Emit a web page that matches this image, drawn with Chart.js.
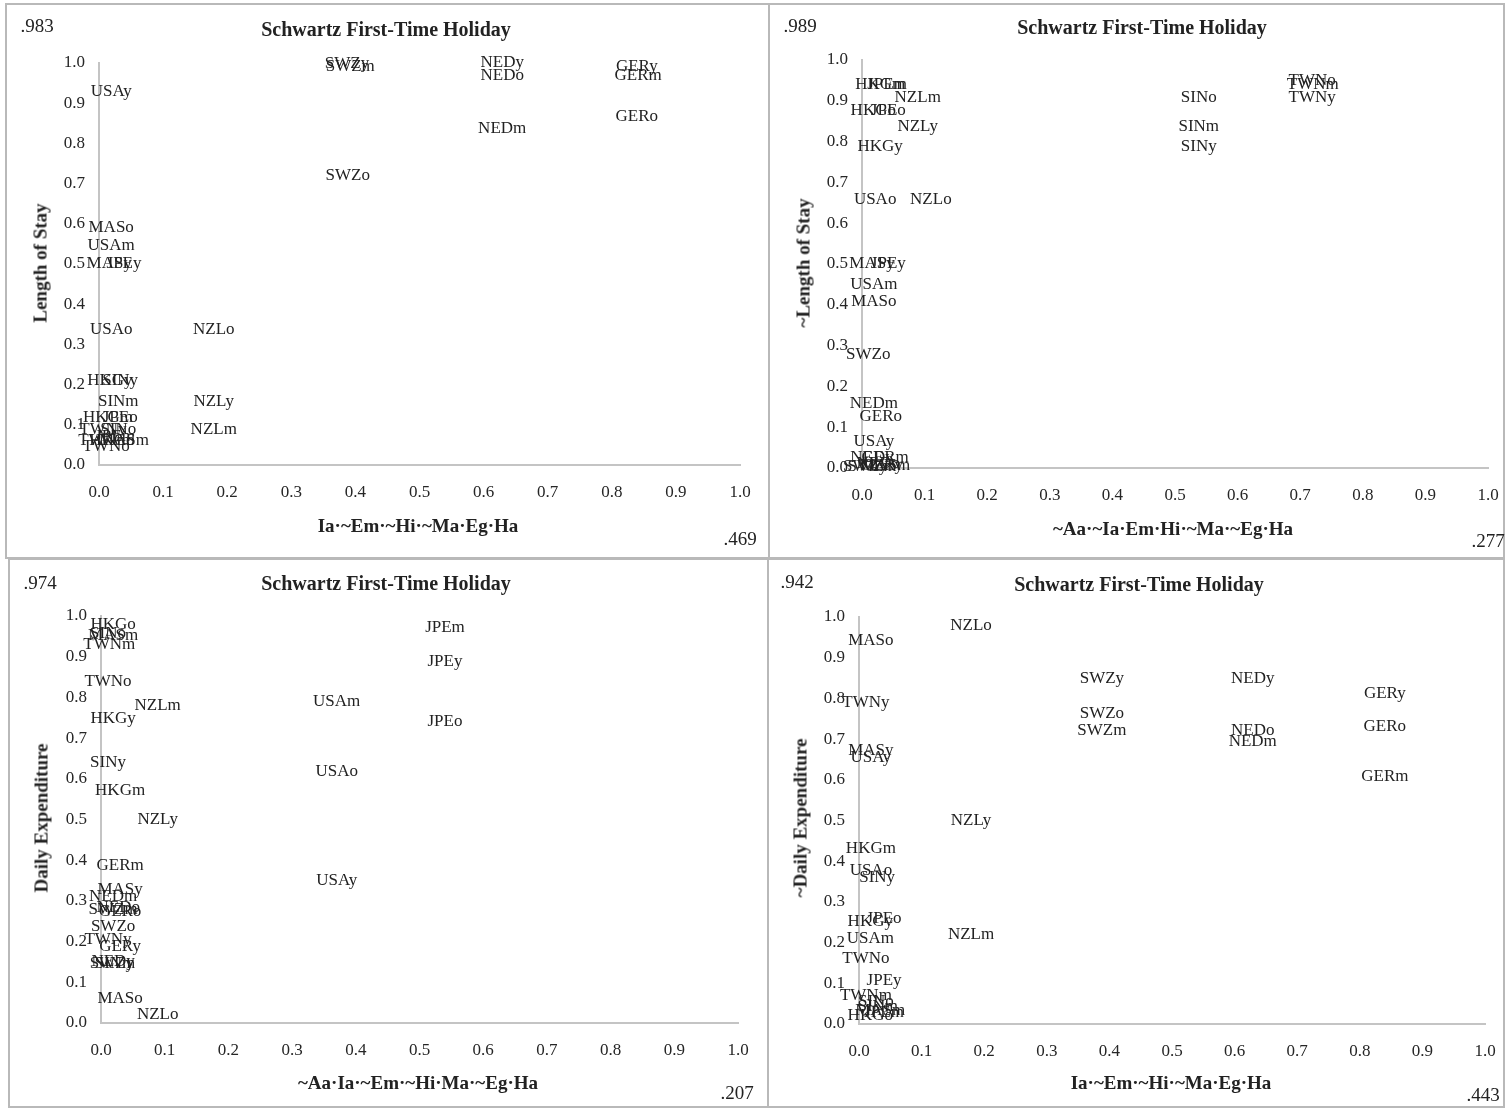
<!DOCTYPE html>
<html>
<head>
<meta charset="utf-8">
<script src="https://cdn.jsdelivr.net/npm/chart.js@4.4.1/dist/chart.umd.min.js"></script>
<style>
  html, body { margin:0; padding:0; background:#fff; }
  body { width:1505px; height:1108px; position:relative; overflow:hidden; font-family:"Liberation Serif","Times New Roman",serif; color:#222; }
  .box { position:absolute; border:2px solid #b9b9b9; box-sizing:border-box; }
  .cv { position:absolute; }
  .t { position:absolute; transform:translate(-50%,-50%); white-space:nowrap; line-height:1; }
  .title { font-weight:bold; font-size:20px; }
  .axt { font-weight:bold; font-size:19px; }
  .yt { transform:translate(-50%,-50%) rotate(-90deg); }
  .num { font-size:19px; }
</style>
</head>
<body>
<script>
// ---------- DATA ----------
const tickLabels = ["0.0","0.1","0.2","0.3","0.4","0.5","0.6","0.7","0.8","0.9","1.0"];

// Panel 1: Length of Stay vs Ia·~Em·~Hi·~Ma·Eg·Ha
const p1Labels = ["SWZy","SWZm","SWZo","NEDy","NEDo","NEDm","GERy","GERm","GERo","USAy","MASo","USAm","MASy","JPEy","USAo","NZLo","HKGy","SINy","SINm","NZLy","NZLm","HKGm","JPEo","TWNy","SINo","TWNm","HKGo","MASm","JPEm","TWNo"];
const p1X = [0.387,0.392,0.388,0.629,0.629,0.629,0.839,0.841,0.839,0.019,0.019,0.019,0.016,0.039,0.019,0.179,0.017,0.033,0.030,0.179,0.179,0.014,0.033,0.006,0.030,0.008,0.020,0.039,0.025,0.011];
const p1Y = [0.998,0.990,0.719,1.000,0.970,0.838,0.990,0.970,0.868,0.928,0.590,0.547,0.500,0.500,0.338,0.338,0.209,0.209,0.159,0.159,0.087,0.117,0.117,0.087,0.087,0.060,0.062,0.060,0.070,0.047];

// Panel 2: ~Length of Stay vs ~Aa·~Ia·Em·Hi·~Ma·~Eg·Ha
const p2Labels = ["HKGm","JPEm","NZLm","HKGo","JPEo","NZLy","HKGy","SINo","SINm","SINy","TWNo","TWNm","TWNy","USAo","NZLo","MASy","JPEy","USAm","MASo","SWZo","NEDm","GERo","USAy","NEDy","GERm","SWZy","SWZm","GERy","NEDo","MASm"];
const p2X = [0.029,0.040,0.089,0.018,0.042,0.089,0.029,0.538,0.538,0.538,0.719,0.720,0.719,0.021,0.110,0.016,0.042,0.019,0.019,0.010,0.019,0.030,0.019,0.016,0.037,0.005,0.016,0.032,0.026,0.037];
const p2Y = [0.939,0.939,0.909,0.877,0.877,0.838,0.789,0.909,0.838,0.789,0.949,0.939,0.909,0.659,0.659,0.500,0.500,0.449,0.407,0.277,0.157,0.125,0.066,0.025,0.025,0.004,0.004,0.005,0.012,0.005];

// Panel 3: Daily Expenditure vs ~Aa·Ia·~Em·~Hi·Ma·~Eg·Ha
const p3Labels = ["HKGo","SINo","MASm","TWNm","JPEm","JPEy","JPEo","USAm","USAo","USAy","TWNo","NZLm","HKGy","SINy","HKGm","NZLy","GERm","MASy","NEDm","SWZm","GERo","NEDo","SWZo","TWNy","GERy","SWZy","SINm","NEDy","MASo","NZLo"];
const p3X = [0.019,0.011,0.019,0.013,0.540,0.540,0.540,0.370,0.370,0.370,0.011,0.089,0.019,0.011,0.030,0.089,0.030,0.030,0.019,0.019,0.030,0.027,0.019,0.011,0.030,0.017,0.022,0.019,0.030,0.089];
const p3Y = [0.980,0.956,0.951,0.931,0.971,0.889,0.740,0.791,0.619,0.349,0.840,0.781,0.749,0.639,0.570,0.499,0.388,0.329,0.310,0.278,0.273,0.283,0.238,0.206,0.189,0.147,0.147,0.152,0.059,0.020];

// Panel 4: ~Daily Expenditure vs Ia·~Em·~Hi·~Ma·Eg·Ha
const p4Labels = ["NZLo","MASo","SWZy","NEDy","GERy","TWNy","SWZo","SWZm","NEDo","NEDm","GERo","GERm","MASy","USAy","NZLy","HKGm","USAo","SINy","JPEo","HKGy","USAm","NZLm","TWNo","JPEy","TWNm","SINm","SINo","MASm","JPEm","HKGo"];
const p4X = [0.179,0.019,0.388,0.629,0.840,0.011,0.388,0.388,0.629,0.629,0.840,0.840,0.019,0.019,0.179,0.019,0.019,0.029,0.040,0.018,0.018,0.179,0.011,0.040,0.011,0.030,0.027,0.034,0.040,0.018];
const p4Y = [0.980,0.941,0.850,0.850,0.813,0.791,0.762,0.720,0.720,0.693,0.732,0.609,0.671,0.654,0.501,0.430,0.378,0.359,0.260,0.251,0.209,0.219,0.160,0.108,0.069,0.044,0.054,0.034,0.029,0.020];

const chartTitle = "Schwartz First-Time Holiday";
const panelTexts = [
  { yTitle:"Length of Stay",     xTitle:"Ia\u00B7~Em\u00B7~Hi\u00B7~Ma\u00B7Eg\u00B7Ha",          tl:".983", br:".469" },
  { yTitle:"~Length of Stay",    xTitle:"~Aa\u00B7~Ia\u00B7Em\u00B7Hi\u00B7~Ma\u00B7~Eg\u00B7Ha",  tl:".989", br:".277" },
  { yTitle:"Daily Expenditure",  xTitle:"~Aa\u00B7Ia\u00B7~Em\u00B7~Hi\u00B7Ma\u00B7~Eg\u00B7Ha",  tl:".974", br:".207" },
  { yTitle:"~Daily Expenditure", xTitle:"Ia\u00B7~Em\u00B7~Hi\u00B7~Ma\u00B7Eg\u00B7Ha",          tl:".942", br:".443" }
];
const panelData = [
  [p1Labels, p1X, p1Y],
  [p2Labels, p2X, p2Y],
  [p3Labels, p3X, p3Y],
  [p4Labels, p4X, p4Y]
];

// ---------- LAYOUT ----------
const layoutCfg = [
  { box:[5,3,765,556],    plot:[99,740,63,465],    tl:[37,25],  title:[386,29],  yt:[40,263],  xt:[418,525],  br:[740,538] },
  { box:[768,3,737,556],  plot:[862,1488,60,468],  tl:[800,25], title:[1142,27], yt:[803,263], xt:[1173,528], br:[1488,540] },
  { box:[8,558,761,550],  plot:[101,738,616,1023], tl:[40,582], title:[386,583], yt:[41,818],  xt:[418,1082], br:[737,1092] },
  { box:[767,558,738,550],plot:[859,1485,617,1024],tl:[797,581],title:[1139,584],yt:[800,818], xt:[1171,1082],br:[1483,1094] }
];

const labelPlugin = {
  id:'pointLabels',
  afterDatasetsDraw(chart) {
    const ctx = chart.ctx;
    const ds = chart.data.datasets[0];
    const meta = chart.getDatasetMeta(0);
    ctx.save();
    ctx.font = '17px "Liberation Serif"';
    ctx.fillStyle = '#222222';
    ctx.textAlign = 'center';
    ctx.textBaseline = 'middle';
    meta.data.forEach((pt, i) => {
      ctx.fillText(ds.names[i], pt.x, pt.y);
    });
    ctx.restore();
  }
};

function addText(cls, txt, pos) {
  const d = document.createElement('div');
  d.className = 't ' + cls;
  d.textContent = txt;
  d.style.left = pos[0] + 'px';
  d.style.top = pos[1] + 'px';
  document.body.appendChild(d);
}

layoutCfg.forEach((L, k) => {
  const [bx, by, bw, bh] = L.box;
  const [pl, pr, pt, pb] = L.plot;
  const box = document.createElement('div');
  box.className = 'box';
  Object.assign(box.style, { left:bx+'px', top:by+'px', width:bw+'px', height:bh+'px' });
  document.body.appendChild(box);

  const wrap = document.createElement('div');
  wrap.className = 'cv';
  Object.assign(wrap.style, { left:bx+'px', top:by+'px', width:bw+'px', height:bh+'px' });
  const cv = document.createElement('canvas');
  cv.width = bw; cv.height = bh;
  wrap.appendChild(cv);
  document.body.appendChild(wrap);

  const [names, xs, ys] = panelData[k];
  const pts = xs.map((x, i) => ({ x:x, y:ys[i] }));
  const yW = pl - bx;
  const xH = (by + bh) - pb;

  new Chart(cv, {
    type:'scatter',
    data:{ datasets:[{ data:pts, names:names, pointRadius:0, pointHoverRadius:0, showLine:false }] },
    options:{
      responsive:false,
      animation:false,
      devicePixelRatio:1,
      layout:{ padding:{ left:0, top:pt - by, right:(bx + bw) - pr, bottom:0 } },
      plugins:{ legend:{ display:false }, tooltip:{ enabled:false }, title:{ display:false } },
      scales:{
        x:{
          type:'linear', min:0, max:1,
          grid:{ display:false, drawTicks:false },
          border:{ display:true, color:'#c4c4c4', width:2 },
          ticks:{ stepSize:0.1, padding:17, color:'#262626', font:{ family:'Liberation Serif', size:17 },
                  callback:(v) => tickLabels[Math.round(v * 10)] },
          afterFit:(s) => { s.height = xH; s.paddingLeft = 0; s.paddingRight = 0; }
        },
        y:{
          type:'linear', min:0, max:1,
          grid:{ display:false, drawTicks:false },
          border:{ display:true, color:'#c4c4c4', width:2 },
          ticks:{ stepSize:0.1, padding:14, color:'#262626', font:{ family:'Liberation Serif', size:17 },
                  callback:(v) => tickLabels[Math.round(v * 10)] },
          afterFit:(s) => { s.width = yW; s.paddingTop = 0; s.paddingBottom = 0; }
        }
      }
    },
    plugins:[labelPlugin]
  });

  const T = panelTexts[k];
  addText('num', T.tl, L.tl);
  addText('title', chartTitle, L.title);
  addText('axt yt', T.yTitle, L.yt);
  addText('axt', T.xTitle, L.xt);
  addText('num', T.br, L.br);
});
</script>
</body>
</html>
